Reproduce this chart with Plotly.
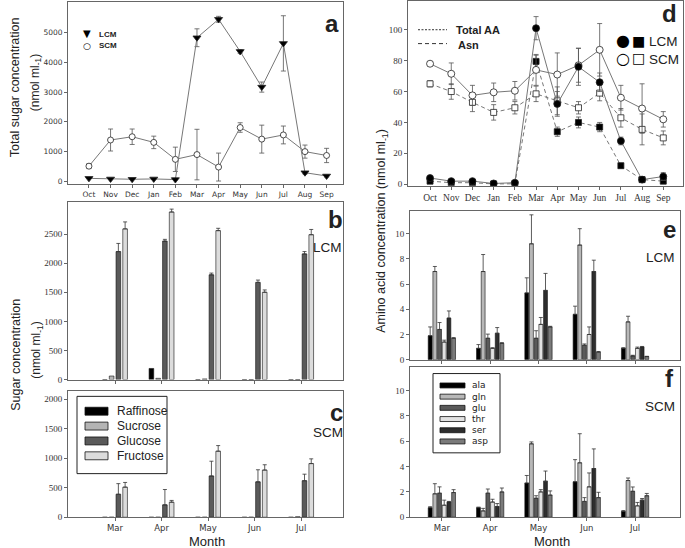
import plotly.graph_objects as go

W, H = 685, 548
def px(x): return x / W
def py(y): return 1 - y / H

# ---------------- data ----------------
months = ['Oct', 'Nov', 'Dec', 'Jan', 'Feb', 'Mar', 'Apr', 'May', 'Jun', 'Jul', 'Aug', 'Sep']

# Panel a: total sugar concentration (nmol ml-1)
a_lcm = [100, 80, 70, 80, 60, 4830, 5450, 4370, 3170, 4640, 290, 180]
a_lcm_err = [0, 0, 0, 0, 0, 300, 100, 60, 170, 930, 40, 30]
a_scm = [510, 1390, 1500, 1310, 740, 900, 480, 1810, 1420, 1560, 1000, 870]
a_scm_err = [80, 370, 260, 210, 410, 850, 470, 160, 470, 300, 220, 240]

# Panel d: total amino acids and asparagine (nmol ml-1)
d_tot_lcm = [4, 2, 2, 0.5, 1, 101, 52, 76, 66, 28, 3, 5]
d_tot_lcm_err = [0.5, 0.5, 0.5, 0.3, 0.5, 7.5, 8, 12, 6, 2.5, 1, 2.5]
d_tot_scm = [78, 71.5, 57.5, 59.5, 60.5, 74, 71, 77, 87, 56, 49, 42]
d_tot_scm_err = [1.5, 7, 6.5, 6, 6, 10, 14, 11, 17, 8, 16, 5]
d_asn_lcm = [2, 1, 1, 0.2, 0.3, 79.5, 34, 40, 37, 12, 3, 2]
d_asn_lcm_err = [0.3, 0.3, 0.3, 0.2, 0.2, 4, 3, 3.5, 3, 1.5, 1, 1]
d_asn_scm = [65, 60, 53, 46.5, 49.5, 58.5, 54, 49.5, 59, 43, 35.5, 30]
d_asn_scm_err = [2, 5, 6, 5, 4, 5, 9, 4, 5, 6, 10, 4.5]

# Panels b, c: individual sugars
bar_months = ['Mar', 'Apr', 'May', 'Jun', 'Jul']
sugars = ['Raffinose', 'Sucrose', 'Glucose', 'Fructose']
b_raffinose = [0, 190, 0, 0, 0]
b_sucrose = [60, 20, 10, 0, 0]
b_glucose = [2200, 2380, 1800, 1670, 2160]
b_fructose = [2590, 2880, 2560, 1500, 2490]
b_glucose_err = [140, 30, 30, 40, 40]
b_fructose_err = [120, 50, 40, 40, 90]
c_raffinose = [0, 0, 0, 0, 0]
c_sucrose = [0, 0, 0, 0, 8]
c_glucose = [390, 210, 700, 600, 620]
c_fructose = [510, 255, 1120, 800, 910]
c_glucose_err = [180, 260, 250, 205, 110]
c_fructose_err = [80, 30, 95, 90, 80]

# Panels e, f: individual amino acids
amino = ['ala', 'gln', 'glu', 'thr', 'ser', 'asp']
e_ala = [1.9, 0.9, 5.3, 3.6, 0.9]
e_gln = [7.0, 7.0, 9.2, 9.1, 3.0]
e_glu = [2.4, 1.7, 1.7, 1.15, 0.3]
e_thr = [1.4, 0.9, 2.8, 2.0, 0.9]
e_ser = [3.3, 2.1, 5.5, 7.0, 1.0]
e_asp = [1.7, 1.3, 2.6, 0.6, 0.25]
e_ala_err = [0.7, 0.3, 1.2, 0.65, 0.05]
e_gln_err = [0.4, 1.35, 2.3, 1.3, 0.45]
e_glu_err = [0.55, 0.33, 0.6, 0.1, 0.05]
e_thr_err = [0.15, 0.05, 0.55, 0.6, 0.1]
e_ser_err = [0.57, 0.45, 1.35, 0.9, 0.05]
e_asp_err = [0.05, 0.05, 0.05, 0.05, 0.02]
f_ala = [0.75, 0.75, 2.7, 2.8, 0.45]
f_gln = [1.85, 0.5, 5.8, 4.3, 2.9]
f_glu = [1.9, 1.9, 1.5, 1.25, 2.05]
f_thr = [0.95, 1.2, 2.0, 2.4, 0.9]
f_ser = [1.2, 0.85, 2.85, 3.85, 1.35]
f_asp = [1.95, 2.0, 1.75, 1.55, 1.7]
f_ala_err = [0.08, 0.05, 0.6, 1.75, 0.08]
f_gln_err = [0.8, 0.2, 0.15, 2.3, 0.2]
f_glu_err = [0.5, 0.33, 0.2, 0.3, 0.34]
f_thr_err = [0.4, 0.22, 0.18, 1.1, 0.27]
f_ser_err = [0.05, 0.23, 0.8, 1.55, 0.13]
f_asp_err = [0.23, 0.31, 0.33, 0.42, 0.18]

sugar_colors = ['#000000', '#b4b4b4', '#5a5a5a', '#dcdcdc']
amino_colors = ['#000000', '#b8b8b8', '#5a5a5a', '#e2e2e2', '#2e2e2e', '#7a7a7a']

# ---------------- figure ----------------
fig = go.Figure()
idx12 = list(range(len(months)))
idx5 = list(range(len(bar_months)))

LINE = '#777777'
ERR = dict(type='data', color='#555555', thickness=0.8, width=2.5)
SHORTDASH = '4px,3px'

def line_trace(y, err, ax, symbol, fill, dash='solid', size=7):
    return go.Scatter(x=idx12, y=y, mode='lines+markers', xaxis='x' + ax, yaxis='y' + ax,
                      line=dict(color=LINE, width=1, dash=dash),
                      marker=dict(symbol=symbol, size=size, color=fill,
                                  line=dict(color='#222222', width=0.8)),
                      error_y=dict(ERR, array=err), showlegend=False)

# panel a
fig.add_trace(line_trace(a_scm, a_scm_err, '', 'circle', 'white', size=6))
fig.add_trace(line_trace(a_lcm, a_lcm_err, '', 'triangle-down', 'black', size=7))
# panel d
fig.add_trace(line_trace(d_asn_scm, d_asn_scm_err, '4', 'square', 'white', dash=SHORTDASH, size=6))
fig.add_trace(line_trace(d_asn_lcm, d_asn_lcm_err, '4', 'square', 'black', dash=SHORTDASH, size=6))
fig.add_trace(line_trace(d_tot_scm, d_tot_scm_err, '4', 'circle', 'white', size=7))
fig.add_trace(line_trace(d_tot_lcm, d_tot_lcm_err, '4', 'circle', 'black', size=7))

def add_bars(series, errs, colors, ax, slot, width):
    n = len(series)
    for k, (vals, err, col) in enumerate(zip(series, errs, colors)):
        center = (k - (n - 1) / 2) * slot
        ey = None
        if err is not None:
            ey = dict(type='data', symmetric=False, array=err, arrayminus=[0] * len(err),
                      color='#333333', thickness=0.8, width=2)
        fig.add_trace(go.Bar(x=idx5, y=vals, width=width, offset=center - width / 2,
                             marker=dict(color=col, line=dict(color='#111111', width=0.6)),
                             error_y=ey, xaxis='x' + ax, yaxis='y' + ax, showlegend=False))

add_bars([b_raffinose, b_sucrose, b_glucose, b_fructose],
         [None, None, b_glucose_err, b_fructose_err], sugar_colors, '2', 0.145, 0.1)
add_bars([c_raffinose, c_sucrose, c_glucose, c_fructose],
         [None, None, c_glucose_err, c_fructose_err], sugar_colors, '3', 0.145, 0.1)
add_bars([e_ala, e_gln, e_glu, e_thr, e_ser, e_asp],
         [e_ala_err, e_gln_err, e_glu_err, e_thr_err, e_ser_err, e_asp_err], amino_colors, '5', 0.097, 0.08)
add_bars([f_ala, f_gln, f_glu, f_thr, f_ser, f_asp],
         [f_ala_err, f_gln_err, f_glu_err, f_thr_err, f_ser_err, f_asp_err], amino_colors, '6', 0.097, 0.08)

AX = dict(showline=True, mirror=True, linecolor='#666666', linewidth=1, ticks='outside',
          ticklen=3, tickcolor='#666666', showgrid=False, zeroline=False)
SERIF = dict(family='Liberation Serif', size=9, color='#333333')
SANS = dict(family='DejaVu Sans', size=7.5, color='#333333')

def xd(l, r): return [px(l), px(r)]
def yd(t, b): return [py(b), py(t)]

fig.update_layout(
    width=W, height=H, margin=dict(l=0, r=0, t=0, b=0),
    paper_bgcolor='white', plot_bgcolor='white', barmode='overlay', showlegend=False,
    # a
    xaxis=dict(AX, domain=xd(68, 343), anchor='y', range=[-0.97, 11.76],
               tickvals=idx12, ticktext=months, tickfont=SANS),
    yaxis=dict(AX, domain=yd(2, 186), anchor='x', range=[-100, 6033],
               tickvals=[0, 1000, 2000, 3000, 4000, 5000], tickfont=SANS),
    # b
    xaxis2=dict(AX, domain=xd(68, 343), anchor='y2', range=[-1.01, 4.9],
                tickvals=idx5, showticklabels=False),
    yaxis2=dict(AX, domain=yd(204, 383), anchor='x2', range=[0, 3050],
                tickvals=[0, 500, 1000, 1500, 2000, 2500], tickfont=SERIF),
    # c
    xaxis3=dict(AX, domain=xd(68, 343), anchor='y3', range=[-1.01, 4.9],
                tickvals=idx5, ticktext=bar_months, tickfont=dict(SANS, size=8.5)),
    yaxis3=dict(AX, domain=yd(395, 522), anchor='x3', range=[0, 2134],
                tickvals=[0, 500, 1000, 1500, 2000], tickfont=SERIF),
    # d
    xaxis4=dict(AX, domain=xd(408, 683), anchor='y4', range=[-1.04, 11.93],
                tickvals=idx12, ticktext=months, tickfont=dict(SERIF, size=9.5)),
    yaxis4=dict(AX, domain=yd(1, 187.5), anchor='x4', range=[-1, 118.6],
                tickvals=[0, 20, 40, 60, 80, 100], tickfont=SERIF),
    # e
    xaxis5=dict(AX, domain=xd(410, 680), anchor='y5', range=[-0.66, 4.93],
                tickvals=idx5, showticklabels=False),
    yaxis5=dict(AX, domain=yd(213, 363), anchor='x5', range=[0, 11.8],
                tickvals=[0, 2, 4, 6, 8, 10], tickfont=SERIF),
    # f
    xaxis6=dict(AX, domain=xd(410, 680), anchor='y6', range=[-0.66, 4.93],
                tickvals=idx5, ticktext=bar_months, tickfont=dict(SANS, size=8.5)),
    yaxis6=dict(AX, domain=yd(370, 522), anchor='x6', range=[0, 11.9],
                tickvals=[0, 2, 4, 6, 8, 10], tickfont=SERIF),
)

ann = []
def text(x, y, t, size=12, bold=False, xanchor='center', angle=0, family='Liberation Sans', color='#222222'):
    ann.append(dict(x=px(x), y=py(y), xref='paper', yref='paper', text=('<b>%s</b>' % t) if bold else t,
                    showarrow=False, xanchor=xanchor, yanchor='middle', textangle=angle,
                    font=dict(family=family, size=size, color=color)))

# panel letters and sub-titles
text(332, 24, 'a', 24, True)
text(335, 222, 'b', 24, True)
text(327, 250, 'LCM', 13.5)
text(336, 416, 'c', 24, True)
text(328, 436, 'SCM', 13.5)
text(669, 14, 'd', 24, True)
text(669, 232, 'e', 24, True)
text(660, 260, 'LCM', 13.5)
text(669, 382, 'f', 24, True)
text(660, 410, 'SCM', 13.5)
text(207, 546, 'Month', 13)
text(552, 546, 'Month', 13)

# axis titles
text(15, 88, 'Total sugar concentration', 12.5, angle=-90)
text(36, 84, '(nmol ml<sub>-1</sub>)', 12, angle=-90)
text(16, 358, 'Sugar concentration', 12.5, angle=-90)
text(37, 354, '(nmol ml<sub>-1</sub>)', 12, angle=-90)
text(382, 233, 'Amino acid concentration (nmol ml<sub>-1</sub>)', 12.5, angle=-90)

# legend a
text(87, 34, '▼', 10, family='DejaVu Sans', color='black')
text(97, 35, 'LCM', 8, True, xanchor='left')
text(87, 46, '○', 9, family='DejaVu Sans', color='black')
text(97, 46, 'SCM', 8, True, xanchor='left')

# legend d
shapes = []
shapes.append(dict(type='line', xref='paper', yref='paper', x0=px(418), x1=px(447), y0=py(30), y1=py(30),
                   line=dict(color='#333333', width=1, dash='2px,1.5px')))
shapes.append(dict(type='line', xref='paper', yref='paper', x0=px(418), x1=px(447), y0=py(44), y1=py(44),
                   line=dict(color='#333333', width=1, dash=SHORTDASH)))
text(454, 30, 'Total AA', 11, True, xanchor='left')
text(456, 45, 'Asn', 11, True, xanchor='left')
text(623, 41, '●', 16, family='DejaVu Sans', color='black')
text(638, 41, '■', 14, family='DejaVu Sans', color='black')
text(647, 42, 'LCM', 13.5, xanchor='left')
text(623, 59, '○', 16, family='DejaVu Sans', color='black')
text(638, 59, '□', 14, family='DejaVu Sans', color='black')
text(647, 60, 'SCM', 13.5, xanchor='left')

# legend c
shapes.append(dict(type='rect', xref='paper', yref='paper', x0=px(77), x1=px(167), y0=py(400), y1=py(478),
                   line=dict(color='#222222', width=1), fillcolor='white'))
for k, (name, col) in enumerate(zip(sugars, sugar_colors)):
    yc = 415 + 15 * k
    shapes.append(dict(type='rect', xref='paper', yref='paper', x0=px(85), x1=px(108),
                       y0=py(yc + 4), y1=py(yc - 4), line=dict(color='#111111', width=0.8), fillcolor=col))
    text(115, yc, name, 12, xanchor='left')

# legend f
shapes.append(dict(type='rect', xref='paper', yref='paper', x0=px(433), x1=px(500), y0=py(377), y1=py(457),
                   line=dict(color='#222222', width=1), fillcolor='white'))
for k, (name, col) in enumerate(zip(amino, amino_colors)):
    yc = 389 + 11.3 * k
    shapes.append(dict(type='rect', xref='paper', yref='paper', x0=px(440), x1=px(465),
                       y0=py(yc + 2.5), y1=py(yc - 2.5), line=dict(color='#111111', width=0.8), fillcolor=col))
    text(470, yc, name, 9, xanchor='left', family='DejaVu Sans')

fig.update_layout(annotations=ann, shapes=shapes)
fig.write_html('out.html', config={'displayModeBar': False},
               post_script="document.body.style.margin='0px';document.body.style.overflow='hidden';")
